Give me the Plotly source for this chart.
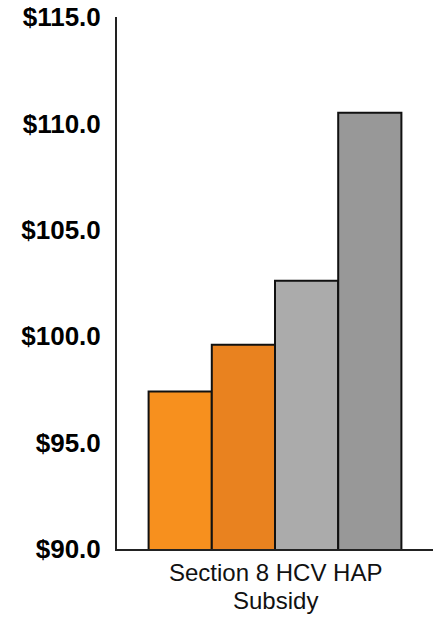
import plotly.graph_objects as go

category = ["Section 8 HCV HAP Subsidy"]
category_label_lines = ["Section 8 HCV HAP", "Subsidy"]
series_names = ["Series 1", "Series 2", "Series 3", "Series 4"]
values = [97.4, 99.6, 102.6, 110.5]
colors = ["#F7901E", "#E9821F", "#ABABAB", "#989898"]
tick_vals = [90, 95, 100, 105, 110, 115]
tick_text = ["$90.0", "$95.0", "$100.0", "$105.0", "$110.0", "$115.0"]

FONT = "Liberation Sans, Arial, sans-serif"

fig = go.Figure()
for name, v, c in zip(series_names, values, colors):
    fig.add_trace(go.Bar(
        x=category, y=[v], name=name,
        marker=dict(color=c, line=dict(color="#111111", width=2)),
    ))

# two-line category label
for i, line in enumerate(category_label_lines):
    fig.add_annotation(
        x=category[0], xref="x", y=0, yref="paper",
        yanchor="top", yshift=-9 - 28 * i,
        text=line, showarrow=False, borderpad=0,
        font=dict(size=24, family=FONT, color="#111111"),
    )

fig.update_layout(
    width=433, height=626,
    margin=dict(l=117, r=0, t=17, b=77),
    paper_bgcolor="white", plot_bgcolor="white",
    barmode="group", bargap=0.2, bargroupgap=0,
    showlegend=False,
    font=dict(family=FONT, color="black"),
)
fig.update_yaxes(
    range=[90, 115], tickvals=tick_vals, ticktext=tick_text,
    showgrid=False, zeroline=False,
    showline=True, linecolor="#222222", linewidth=2,
    ticks="", ticklabelstandoff=9,
    tickfont=dict(size=26, family=FONT, color="black", weight="bold"),
)
fig.update_xaxes(
    showgrid=False, showline=True, linecolor="#222222", linewidth=2,
    ticks="", showticklabels=False,
)

fig.write_html("out.html")
